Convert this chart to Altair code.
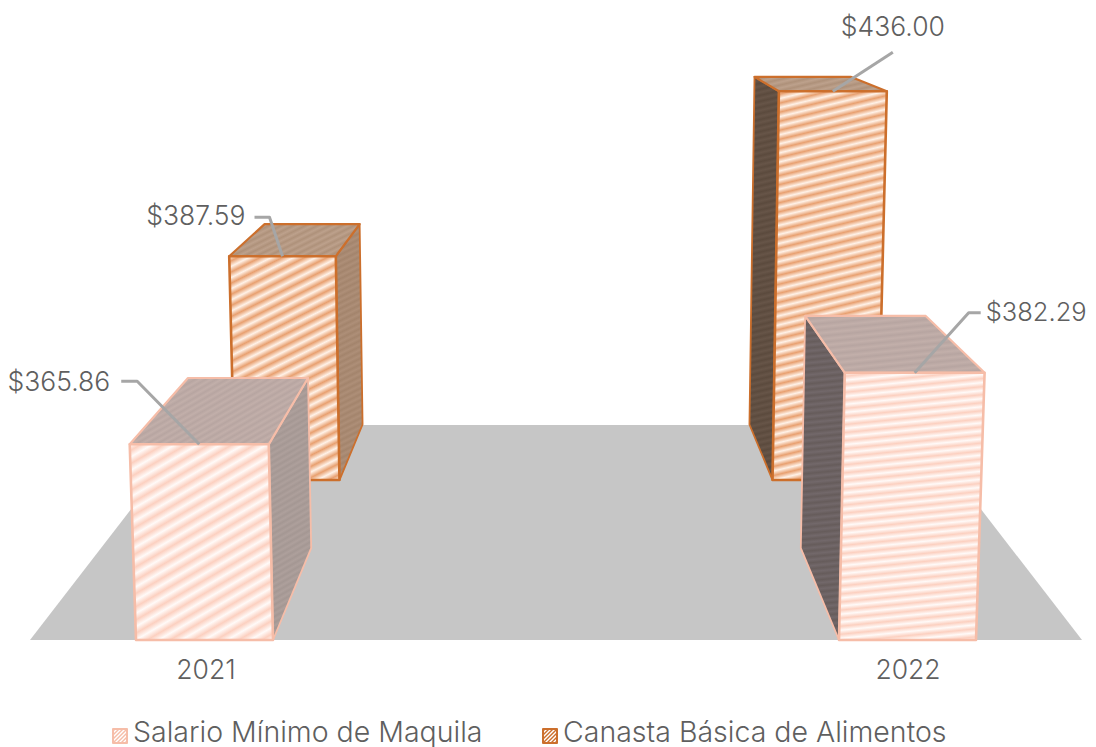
import altair as alt

# ---- values
years = ["2021", "2022"]
salario = [365.86, 382.29]
canasta = [387.59, 436.00]
salario_labels = ["$365.86", "$382.29"]
canasta_labels = ["$387.59", "$436.00"]
series_names = ["Salario Mínimo de Maquila", "Canasta Básica de Alimentos"]

# ---- 3D camera model of the chart (pixel page coordinates)
MARGIN = 8
W, H = 1080, 739
VP_X, VP_Y, FLOOR_Y = 556, -41, 640
BASE, Z_PER_UNIT, Z_PERSP = 320.0, 4.41, 7.3e-5
FRONT_D, BACK_D, BAR_DEPTH = 0.0, 0.307, 0.156
FLOOR_DEPTH, FLOOR_HALF = 0.461, 526
X_INNER, X_OUTER = 283, 420


def project(X, D, value):
    Z = (value - BASE) * Z_PER_UNIT
    w = 1 + D - Z_PERSP * Z
    u = VP_X + X / w
    v = (FLOOR_Y + VP_Y * D - Z) / w
    return (u - MARGIN, v - MARGIN)


def stripes(pts, a, b, slope, vspace):
    """Diagonal hatch as a repeating gradient in the polygon's bounding box."""
    xs, ys = [p[0] for p in pts], [p[1] for p in pts]
    bw, bh = max(max(xs) - min(xs), 1), max(max(ys) - min(ys), 1)
    A, B = slope, 1.0
    span = A * bw + B * bh
    k = span / (A * A * bw * bw + B * B * bh * bh)
    n = max(int(round(span / vspace)), 1)
    stops = []
    for i in range(2 * n + 1):
        stops.append({"offset": i / (2 * n), "color": a if i % 2 == 0 else b})
    return {
        "gradient": "linear",
        "x1": 0, "y1": 0,
        "x2": A * bw * k, "y2": B * bh * k,
        "stops": stops,
    }


X_SCALE = alt.Scale(domain=[0, W], range=[0, W], nice=False, zero=False)
Y_SCALE = alt.Scale(domain=[0, H], range=[0, H], nice=False, zero=False)


def polygon(pts, fill, stroke="transparent", sw=0.0):
    rows = [{"x": p[0], "y": p[1], "o": i} for i, p in enumerate(pts)]
    return (
        alt.Chart(alt.Data(values=rows))
        .mark_line(interpolate="linear-closed", fill=fill, stroke=stroke,
                   strokeWidth=sw, strokeJoin="round", clip=False)
        .encode(
            x=alt.X("x:Q", scale=X_SCALE, axis=None),
            y=alt.Y("y:Q", scale=Y_SCALE, axis=None),
            order="o:Q",
        )
    )


def path_line(pts, color="#a6a6a6", sw=3.0):
    rows = [{"x": p[0], "y": p[1], "o": i} for i, p in enumerate(pts)]
    return (
        alt.Chart(alt.Data(values=rows))
        .mark_line(stroke=color, strokeWidth=sw, strokeJoin="round")
        .encode(
            x=alt.X("x:Q", scale=X_SCALE, axis=None),
            y=alt.Y("y:Q", scale=Y_SCALE, axis=None),
            order="o:Q",
        )
    )


def text(s, px, py, align="center", size=26.5, color="#5f5f5f", baseline="middle"):
    return (
        alt.Chart(alt.Data(values=[{"x": px - MARGIN, "y": py - MARGIN, "t": s}]))
        .mark_text(align=align, baseline=baseline, font="Inter", fontWeight=300,
                   fontSize=size, color=color)
        .encode(
            x=alt.X("x:Q", scale=X_SCALE, axis=None),
            y=alt.Y("y:Q", scale=Y_SCALE, axis=None),
            text="t:N",
        )
    )


def bar(side, D, value, style):
    """Front, top and inner/outer side face of one bar."""
    s = -1 if side == 0 else 1
    x1, x2 = s * X_OUTER, s * X_INNER
    xl, xr = min(x1, x2), max(x1, x2)
    d2 = D + BAR_DEPTH
    fbl, fbr = project(xl, D, BASE), project(xr, D, BASE)
    ftl, ftr = project(xl, D, value), project(xr, D, value)
    btl, btr = project(xl, d2, value), project(xr, d2, value)
    bbl, bbr = project(xl, d2, BASE), project(xr, d2, BASE)
    if side == 0:
        side_pts = [ftr, btr, bbr, fbr]
    else:
        side_pts = [btl, ftl, fbl, bbl]
    front_pts = [ftl, ftr, fbr, fbl]
    top_pts = [btl, btr, ftr, ftl]
    st = style
    slope, space = st["slope"][side], st["space"][side]
    return [
        polygon(side_pts, stripes(side_pts, *st["side"][side], slope, 6), st["stroke"], 1.8),
        polygon(top_pts, stripes(top_pts, *st["top"], slope, 6), st["stroke"], 2.2),
        polygon(front_pts, stripes(front_pts, *st["front"], slope, space), st["stroke"], 2.6),
    ], ftl, ftr


salario_style = {
    "stroke": "#f6bda8",
    "front": ("#fffaf8", "#fcd0c0"),
    "top": ("#c2afaa", "#b7a5a1"),
    "side": [("#aea09c", "#a49793"), ("#72686a", "#665c5b")],
    "slope": [0.58, 0.10],
    "space": [13, 8],
}
canasta_style = {
    "stroke": "#cc6f2c",
    "front": ("#fff2e8", "#e8a070"),
    "top": ("#bda18c", "#ae917a"),
    "side": [("#ae8f78", "#a3846c"), ("#675548", "#5b4a3d")],
    "slope": [0.50, 0.24],
    "space": [11, 9],
}

layers = []
# floor
floor_pts = [
    (VP_X - FLOOR_HALF - MARGIN, FLOOR_Y - MARGIN),
    (VP_X + FLOOR_HALF - MARGIN, FLOOR_Y - MARGIN),
    project(FLOOR_HALF, FLOOR_DEPTH, BASE),
    project(-FLOOR_HALF, FLOOR_DEPTH, BASE),
]
layers.append(polygon(floor_pts, "#c6c6c6"))

tops = {}
for i in range(2):
    faces, l, r = bar(i, BACK_D, canasta[i], canasta_style)
    layers += faces
    tops["c", i] = (l, r)
for i in range(2):
    faces, l, r = bar(i, FRONT_D, salario[i], salario_style)
    layers += faces
    tops["s", i] = (l, r)


def mid(pair, frac=0.5):
    (a, b), (c, d) = pair
    return (a + (c - a) * frac + MARGIN, b + (d - b) * frac + MARGIN)


# leader lines and data labels
def leader(anchor, elbow, end):
    pts = [anchor, elbow, end]
    return path_line([(p[0] - MARGIN, p[1] - MARGIN) for p in pts])


a = mid(tops["s", 0])
layers += [leader(a, (a[0] - 62, a[1] - 63), (a[0] - 78, a[1] - 63)),
           text(salario_labels[0], a[0] - 89, a[1] - 61, "right")]
a = mid(tops["s", 1])
layers += [leader(a, (a[0] + 54, a[1] - 60), (a[0] + 66, a[1] - 60)),
           text(salario_labels[1], a[0] + 71, a[1] - 60, "left", size=25.5)]
a = mid(tops["c", 0])
layers += [leader(a, (a[0] - 13, a[1] - 39), (a[0] - 28, a[1] - 39)),
           text(canasta_labels[0], a[0] - 37, a[1] - 39, "right")]
a = mid(tops["c", 1], 0.5)
layers += [leader(a, (a[0] + 60, a[1] - 39), (a[0] + 60, a[1] - 39)),
           text(canasta_labels[1], a[0] + 60, a[1] - 63)]

# category labels
for yr, xc in zip(years, [206, 908]):
    layers.append(text(yr, xc, 671))

# legend
legend_y = 736
for name, xs, st, xt in zip(series_names, [113, 543], [salario_style, canasta_style], [133, 563]):
    sq = [(xs - MARGIN, legend_y - 7 - MARGIN), (xs + 14 - MARGIN, legend_y - 7 - MARGIN),
          (xs + 14 - MARGIN, legend_y + 7 - MARGIN), (xs - MARGIN, legend_y + 7 - MARGIN)]
    layers.append(polygon(sq, stripes(sq, "#ffffff", st["stroke"], 1.0, 4), st["stroke"], 2))
    layers.append(text(name, xt, legend_y + 5.5, "left", size=28.5, baseline="alphabetic"))

chart = (
    alt.layer(*layers)
    .properties(width=W, height=H, padding=0, autosize=alt.AutoSizeParams(type="none"),
                background="#ffffff")
    .configure_view(stroke=None)
)
chart.save("out.html", embed_options={"renderer": "svg", "actions": False})
